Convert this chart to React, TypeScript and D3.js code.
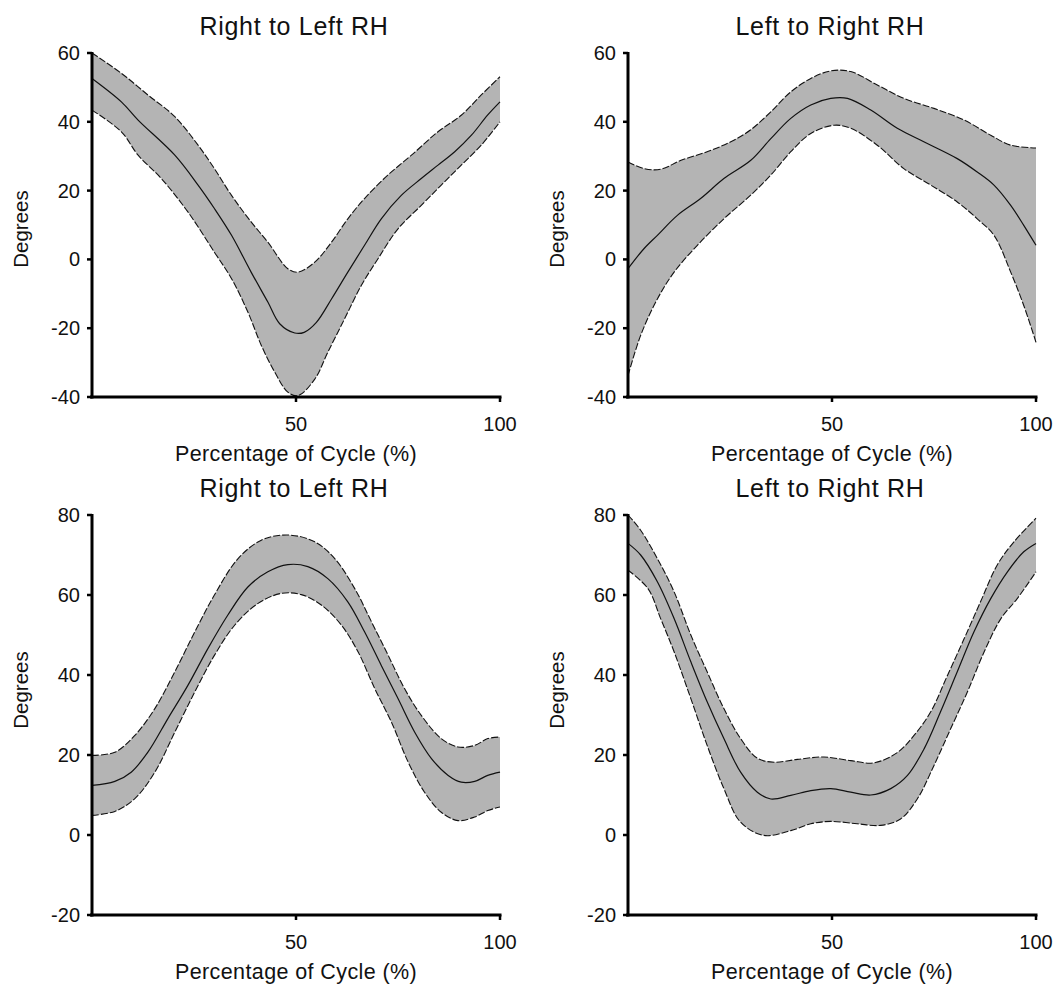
import React from "react";
import * as d3 from "d3";

type Pt = [number, number];

// Percentage of cycle vs. joint angle (degrees): mean and ±1 SD envelopes.

// Right to Left RH (upper row)
const rlTopMean: Pt[] = [
  [0, 52.6], [7.2, 45.8], [11.3, 40.5], [20.3, 30.3], [26, 21.6], [30, 14.8], [34.2, 7],
  [39, -3.7], [43.1, -12.4], [46, -18.7], [49.7, -21.4], [52, -21.2], [55, -18.3],
  [58.7, -11.5], [62.7, -3.7], [66.8, 4.1], [70.9, 11.8], [75.8, 18.6], [80.7, 23.5],
  [84.8, 27.4], [88.9, 31.3], [93, 36.1], [97, 42], [100, 45.8],
];
const rlTopUpper: Pt[] = [
  [0, 60], [7.2, 54.1], [13.7, 47.8], [20.3, 41.5], [26, 33.2], [30, 26.4], [34.2, 18.6],
  [39, 10.9], [43.1, 5], [48, -2.7], [50.5, -3.7], [54.6, -0.8], [58.7, 5], [62.7, 11.8],
  [66.8, 17.7], [72.5, 24.5], [78.3, 30.3], [84.8, 37.1], [90.5, 41.9], [95.4, 47.8], [100, 53.1],
];
const rlTopLower: Pt[] = [
  [0, 43.4], [7.2, 37.1], [11.3, 30.3], [17, 23.5], [23.5, 13.8], [30, 2.1], [34.2, -5.6],
  [38.2, -15.3], [41.5, -25], [44.8, -32.8], [48, -38.6], [50.5, -39.6], [54.6, -34.8],
  [57.8, -27], [61.9, -17.3], [66, -7.6], [70.1, 0.2], [75, 8.9], [80.7, 15.7], [85.6, 21.6],
  [90.5, 27.4], [95.4, 33.2], [100, 40],
];

// Left to Right RH (upper row)
const lrTopMean: Pt[] = [
  [0, -2.7], [3.9, 3.1], [7.2, 7], [12.1, 12.8], [17.8, 17.7], [23.5, 23.5], [30.1, 28.8],
  [35, 35.1], [39.9, 41], [44.8, 44.9], [49.7, 46.8], [53.8, 46.8], [59.5, 43.4], [66, 38.1],
  [72.5, 34.2], [80.7, 29.3], [85.6, 25.4], [89.7, 21.6], [93.8, 15.7], [97, 9.9], [100, 4.1],
];
const lrTopUpper: Pt[] = [
  [0, 28.3], [3.9, 26.4], [8, 26.2], [13, 28.8], [19.4, 31.3], [25.2, 34.2], [30, 37.6],
  [35, 42.9], [39.9, 48.7], [44.8, 52.6], [49.7, 54.8], [54.6, 54.6], [61.1, 50.7],
  [67.6, 46.8], [75, 43.9], [82.4, 40.5], [88.9, 36.1], [93.8, 33.2], [100, 32.4],
];
const lrTopLower: Pt[] = [
  [0, -33.8], [3.1, -22.1], [7.2, -11.5], [11.3, -3.7], [17, 4.1], [23.5, 11.8], [30, 18.6],
  [35, 24.5], [39.9, 31.3], [44.8, 36.6], [50.5, 39], [54.6, 38.1], [61.1, 33.2], [67.6, 26.4],
  [74.2, 21.6], [80.7, 16.7], [85.6, 11.8], [89.7, 7], [93.8, -3.7], [97, -13.4], [100, -24.1],
];

// Right to Left RH (lower row)
const rlBotMean: Pt[] = [
  [0, 12.4], [5.6, 13.4], [9.6, 15.7], [13.7, 20.7], [18.6, 29.1], [23.5, 37.4], [28.4, 46.6],
  [33.3, 55], [38.2, 62], [43.1, 65.8], [48, 67.6], [52.9, 67.1], [57.8, 64.1], [62.7, 58.3],
  [66.8, 50.8], [70.9, 42.4], [75, 34.1], [79.1, 25.7], [83.2, 19.1], [87.3, 14.9],
  [90.5, 13.2], [93.8, 13.4], [97, 14.9], [100, 15.7],
];
const rlBotUpper: Pt[] = [
  [0, 19.9], [5.6, 20.7], [10.5, 24.9], [15.4, 31.6], [20.3, 40.8], [25.2, 50.8], [30, 60],
  [35.8, 69.1], [41.5, 73.7], [48, 75], [54.6, 73.3], [59.5, 69.1], [64.4, 61.6], [68.5, 53.3],
  [72.6, 44.9], [76.6, 36.6], [80.7, 29.9], [85.6, 24.1], [89.7, 22], [93.8, 22.4],
  [97, 24.1], [100, 24.5],
];
const rlBotLower: Pt[] = [
  [0, 4.9], [5.6, 5.9], [10.5, 9.1], [15.4, 15.7], [20.3, 25.7], [25.2, 35.8], [30, 44.9],
  [35, 52.5], [40.7, 57.9], [46.4, 60.4], [51.3, 60.1], [56.2, 57.5], [61.1, 52.5],
  [65.2, 45.8], [69.3, 36.6], [73.4, 28.2], [77.5, 18.2], [81.5, 10.7], [85.6, 5.7],
  [89.7, 3.6], [93.8, 4.5], [97, 6.1], [100, 7],
];

// Left to Right RH (lower row)
const lrBotMean: Pt[] = [
  [0, 72.9], [3.1, 70], [7.2, 63.3], [11.3, 54.1], [15.4, 43.3], [19.4, 33.3], [23.5, 24.1],
  [27.6, 15.7], [31.7, 10.7], [35, 9], [39.9, 9.9], [44.8, 11.1], [49.7, 11.6], [54.6, 10.7],
  [59.5, 10], [64.4, 11.6], [68.5, 14.9], [72.6, 21.6], [76.6, 30.8], [80.7, 40.8],
  [84.8, 50.8], [88.9, 59.1], [93, 65.8], [97, 70.8], [100, 72.9],
];
const lrBotUpper: Pt[] = [
  [0, 80], [3.1, 76.2], [7.2, 69.1], [11.3, 60.8], [15.4, 50], [19.4, 40.8], [23.5, 31.6],
  [27.6, 24.1], [31.7, 19.2], [35.8, 18.2], [41.5, 18.9], [48, 19.5], [54.6, 18.6], [60.1, 18],
  [66, 20.6], [70.1, 24.9], [74.2, 30.8], [78.3, 39.9], [82.4, 49.1], [86.4, 58.3],
  [90.5, 67.5], [94.6, 73.3], [100, 79.2],
];
const lrBotLower: Pt[] = [
  [0, 66.2], [4.9, 61.6], [8, 54.1], [11.3, 45.8], [15.4, 34.1], [19.4, 22.4], [23.5, 11.6],
  [27.6, 3.2], [33.3, -0.1], [39.9, 1.1], [44.8, 2.8], [49.7, 3.4], [56.2, 2.8], [61.9, 2.4],
  [66.8, 4], [70.9, 9], [75, 17.4], [79.1, 26.6], [83.2, 35.8], [87.3, 45.8], [91.4, 54.1],
  [95.4, 59.1], [100, 65.8],
];

const topTicks = [-40, -20, 0, 20, 40, 60];
const bottomTicks = [-20, 0, 20, 40, 60, 80];
const xTicks = [50, 100];
const titles = ["Right to Left RH", "Left to Right RH", "Right to Left RH", "Left to Right RH"];
const xLabel = "Percentage of Cycle (%)";
const yLabel = "Degrees";

type Panel = {
  title: string;
  col: number;
  row: number;
  yTicks: number[];
  mean: Pt[];
  upper: Pt[];
  lower: Pt[];
};

const panels: Panel[] = [
  { title: titles[0], col: 0, row: 0, yTicks: topTicks, mean: rlTopMean, upper: rlTopUpper, lower: rlTopLower },
  { title: titles[1], col: 1, row: 0, yTicks: topTicks, mean: lrTopMean, upper: lrTopUpper, lower: lrTopLower },
  { title: titles[2], col: 0, row: 1, yTicks: bottomTicks, mean: rlBotMean, upper: rlBotUpper, lower: rlBotLower },
  { title: titles[3], col: 1, row: 1, yTicks: bottomTicks, mean: lrBotMean, upper: lrBotUpper, lower: lrBotLower },
];

const W = 1056;
const H = 987;
const colLeft = [92, 628];
const plotW = 408;
const rows = [
  { top: 53, bottom: 397, yLabelMid: 229 },
  { top: 515, bottom: 915, yLabelMid: 690 },
];
const FONT = "'Liberation Sans', Arial, sans-serif";
const INK = "#111";
const BAND = "#b4b4b4";

function PanelView({ p }: { p: Panel }) {
  const left = colLeft[p.col];
  const r = rows[p.row];
  const x = d3.scaleLinear().domain([0, 100]).range([left, left + plotW]);
  const yExt = d3.extent(p.yTicks) as [number, number];
  const y = d3.scaleLinear().domain(yExt).range([r.bottom, r.top]);
  const curve = d3.curveCatmullRom.alpha(0.5);
  const line = d3
    .line<Pt>()
    .x((d) => x(d[0]))
    .y((d) => y(d[1]))
    .curve(curve);

  const upperPath = line(p.upper) || "";
  const lowerRev = line([...p.lower].reverse()) || "";
  const bandPath = upperPath + "L" + lowerRev.slice(1) + "Z";

  const cx = left + plotW / 2;
  return (
    <g>
      <path d={bandPath} fill={BAND} stroke="none" />
      <path d={upperPath} fill="none" stroke={INK} strokeWidth={1.1} strokeDasharray="7,2" />
      <path d={line(p.lower) || ""} fill="none" stroke={INK} strokeWidth={1.1} strokeDasharray="7,2" />
      <path d={line(p.mean) || ""} fill="none" stroke={INK} strokeWidth={1.2} />

      {/* y axis */}
      <line x1={left} x2={left} y1={r.top - 1} y2={r.bottom + 1.5} stroke="#000" strokeWidth={3} />
      {p.yTicks.map((t) => (
        <g key={"y" + t}>
          <line x1={left - 5} x2={left} y1={y(t)} y2={y(t)} stroke="#000" strokeWidth={2.5} />
          <text
            x={left - 12}
            y={y(t) + 7}
            textAnchor="end"
            fontSize={20}
            fontFamily={FONT}
            fill={INK}
          >
            {t}
          </text>
        </g>
      ))}

      {/* x axis */}
      <line x1={left - 2} x2={left + plotW + 1.5} y1={r.bottom} y2={r.bottom} stroke="#000" strokeWidth={3} />
      {xTicks.map((t) => (
        <g key={"x" + t}>
          <line x1={x(t)} x2={x(t)} y1={r.bottom} y2={r.bottom + 5} stroke="#000" strokeWidth={2.5} />
          <text
            x={x(t)}
            y={r.bottom + 34}
            textAnchor="middle"
            fontSize={20}
            fontFamily={FONT}
            fill={INK}
          >
            {t}
          </text>
        </g>
      ))}

      <text
        x={cx}
        y={r.bottom + 64}
        textAnchor="middle"
        fontSize={21.5}
        letterSpacing={0.4}
        fontFamily={FONT}
        fill={INK}
      >
        {xLabel}
      </text>
      <text
        transform={`translate(${left - 64},${r.yLabelMid}) rotate(-90)`}
        textAnchor="middle"
        fontSize={20.5}
        fontFamily={FONT}
        fill={INK}
      >
        {yLabel}
      </text>
      <text
        x={cx - 2}
        y={r.top - 18}
        textAnchor="middle"
        fontSize={25}
        letterSpacing={0.7}
        fontFamily={FONT}
        fill={INK}
      >
        {p.title}
      </text>
    </g>
  );
}

export default function App() {
  return (
    <svg
      width={W}
      height={H}
      viewBox={`0 0 ${W} ${H}`}
      style={{ position: "absolute", left: 0, top: 0, background: "#fff" }}
    >
      <rect x={0} y={0} width={W} height={H} fill="#fff" />
      {panels.map((p, i) => (
        <PanelView key={i} p={p} />
      ))}
    </svg>
  );
}
